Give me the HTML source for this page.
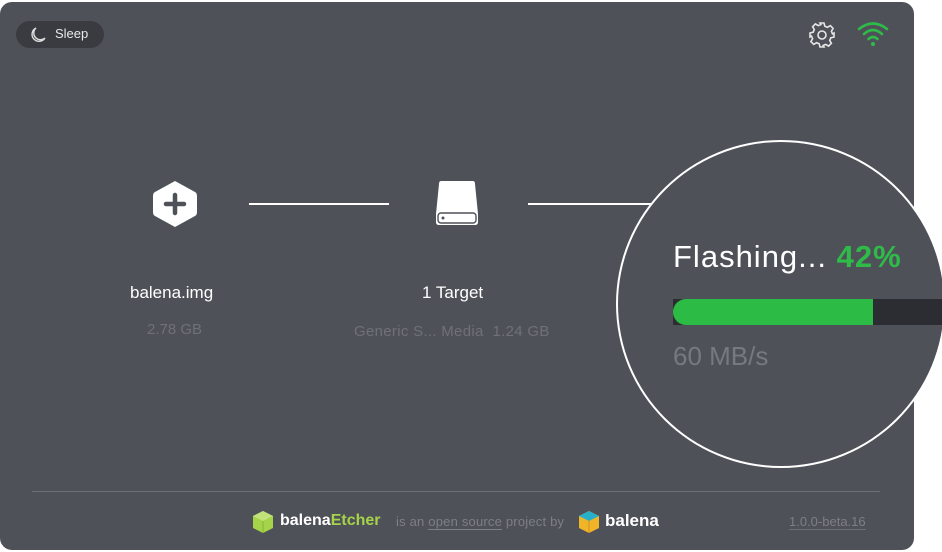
<!DOCTYPE html>
<html><head><meta charset="utf-8"><style>
*{margin:0;padding:0;box-sizing:border-box}
body{width:942px;height:552px;background:#fff;position:relative;overflow:hidden;font-family:"Liberation Sans",sans-serif}
.win{position:absolute;left:0;top:2px;width:914px;height:548px;background:#4f5159;border-radius:12px}
.abs{position:absolute}
.t{position:absolute;white-space:nowrap}
</style></head><body>
<div class="win"></div>
<!-- sleep -->
<div class="abs" style="left:16px;top:21px;width:88px;height:27px;border-radius:14px;background:#3a3b41"></div>
<svg class="abs" style="left:28px;top:25px" width="20" height="20" viewBox="0 0 20 20"><path d="M8 3 A7 7 0 1 0 17 13 A6 6 0 0 1 8 3 Z" fill="none" stroke="#ddd" stroke-width="1.4"/></svg>
<div class="t" style="left:55px;top:26px;font-size:13px;color:#e8e8e8">Sleep</div>
<!-- gear -->
<svg class="abs" style="left:808px;top:21px" width="28" height="28" viewBox="0 0 28 28"><g fill="none" stroke="#e6e6e6" stroke-width="1.6"><circle cx="14" cy="14" r="4"/><path d="M12 2h4l.8 3.2 2.6 1.1 2.9-1.7 2.8 2.8-1.7 2.9 1.1 2.6L26 12v4l-3.2.8-1.1 2.6 1.7 2.9-2.8 2.8-2.9-1.7-2.6 1.1L16 26h-4l-.8-3.2-2.6-1.1-2.9 1.7-2.8-2.8 1.7-2.9-1.1-2.6L2 16v-4l3.2-.8 1.1-2.6-1.7-2.9 2.8-2.8 2.9 1.7 2.6-1.1z"/></g></svg>
<!-- wifi -->
<svg class="abs" style="left:856px;top:20px" width="34" height="28" viewBox="0 0 34 28"><g fill="none" stroke="#2fbb48" stroke-width="2.6" stroke-linecap="round"><path d="M3 9 Q17 -2 31 9"/><path d="M8 14 Q17 6 26 14"/><path d="M12.5 19 Q17 15 21.5 19"/></g><circle cx="17" cy="24" r="2" fill="#2fbb48"/></svg>
<!-- hexagon -->
<svg class="abs" style="left:152px;top:180px" width="46" height="48" viewBox="0 0 46 48"><path d="M23 1 L43 12 Q45 13 45 16 V32 Q45 35 43 36 L23 47 L3 36 Q1 35 1 32 V16 Q1 13 3 12 Z" fill="#fff"/><path d="M23 15V33M14 24H32" stroke="#4f5159" stroke-width="4.5" stroke-linecap="round"/></svg>
<div class="abs" style="left:249px;top:203px;width:140px;height:2px;background:#fff"></div>
<!-- drive -->
<svg class="abs" style="left:434px;top:178px" width="46" height="50" viewBox="0 0 46 50"><path d="M7 3 H39 Q41 3 41 6 L44 36 V44 Q44 47 41 47 H5 Q2 47 2 44 V36 L5 6 Q5 3 7 3Z" fill="#fff"/><rect x="4" y="35" width="38" height="10" rx="3" fill="none" stroke="#4f5159" stroke-width="1.4"/><circle cx="9" cy="40" r="1.5" fill="#4f5159"/></svg>
<div class="abs" style="left:528px;top:203px;width:130px;height:2px;background:#fff"></div>
<div class="t" style="left:130px;top:283px;font-size:17px;color:#fff">balena.img</div>
<div class="t" style="left:147px;top:321px;font-size:15px;color:#6f7177">2.78 GB</div>
<div class="t" style="left:422px;top:283px;font-size:17px;color:#fff">1 Target</div>
<div class="t" style="left:354px;top:323px;font-size:15px;color:#6f7177;letter-spacing:0.3px">Generic S... Media&nbsp; 1.24 GB</div>
<!-- circle -->
<div class="abs" style="left:616px;top:140px;width:330px;height:328px;border-radius:50%;background:#4f5159;border:2px solid #fff;overflow:hidden">
  <div class="t" style="left:55px;top:97px;font-size:31px;color:#fff;letter-spacing:1px">Flashing... <b style="color:#2fbb48">42%</b></div>
  <div class="abs" style="left:55px;top:157px;width:290px;height:26px;background:#2c2d32"></div>
  <div class="abs" style="left:55px;top:157px;width:200px;height:26px;background:#2cbc45;border-radius:13px 0 0 13px"></div>
  <div class="t" style="left:55px;top:199px;font-size:26px;color:#777980">60 MB/s</div>
</div>
<!-- footer -->
<div class="abs" style="left:32px;top:491px;width:848px;height:1px;background:#6d6f75"></div>
<svg class="abs" style="left:252px;top:510px" width="22" height="24" viewBox="0 0 22 24"><path d="M11 1 L21 6 V18 L11 23 L1 18 V6Z" fill="#a5d34a"/><path d="M1 6 L11 11 L21 6 L11 1Z" fill="#c2e37a"/><path d="M11 11V23" stroke="#86b537"/></svg>
<div class="t" style="left:280px;top:512px;font-size:16px;font-weight:bold;color:#fff">balena<span style="color:#a5d34a">Etcher</span></div>
<div class="t" style="left:396px;top:514px;font-size:13px;color:#7d7f85;letter-spacing:0.2px">is an <span style="border-bottom:1px solid #7d7f85">open source</span> project by</div>
<svg class="abs" style="left:578px;top:510px" width="22" height="24" viewBox="0 0 22 24"><path d="M11 1 L21 6 V18 L11 23 L1 18 V6Z" fill="#f0b429"/><path d="M1 6 L11 11 L21 6 L11 1Z" fill="#27b0c8"/><path d="M11 11V23" stroke="#d8901a"/></svg>
<div class="t" style="left:605px;top:511px;font-size:17px;font-weight:bold;color:#fff">balena</div>
<div class="t" style="left:789px;top:514px;font-size:13px;color:#7d7f85;border-bottom:1px solid #6d6f75">1.0.0-beta.16</div>
</body></html>
